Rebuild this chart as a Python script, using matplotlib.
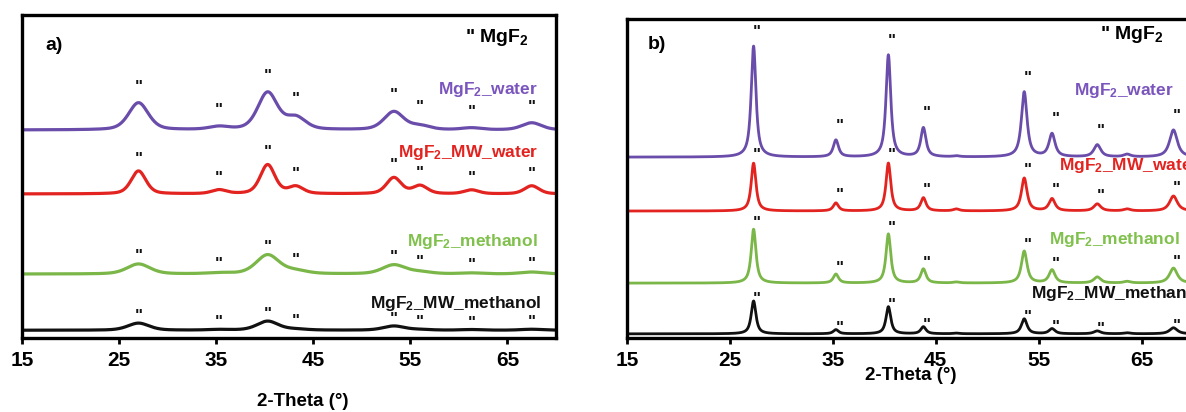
import numpy as np
import matplotlib
matplotlib.use("Agg")
import matplotlib.pyplot as plt

plt.rcParams['font.family'] = ['Liberation Sans', 'DejaVu Sans']
plt.rcParams['mathtext.default'] = 'regular'

# ---------------- data ----------------
series_labels = ['MgF$_2$_water', 'MgF$_2$_MW_water', 'MgF$_2$_methanol', 'MgF$_2$_MW_methanol']
line_colors = ['#6a4caa', '#e2231f', '#7ab648', '#111111']
text_colors = ['#7a55bd', '#e2231f', '#80c04c', '#111111']

x_ticks = [15, 25, 35, 45, 55, 65]

# panel a) broad reflections (2-theta, relative intensity units)
a_peak_pos = [27.0, 35.3, 40.3, 43.2, 53.3, 56.0, 61.3, 67.5]
a_baseline = [64.4, 44.6, 19.8, 2.4]
a_water = [8.4, 0.9, 11.5, 3.7, 5.6, 1.2, 0.6, 2.2]
a_mw_water = [7.1, 1.2, 9.0, 2.2, 5.0, 2.5, 1.2, 2.5]
a_methanol = [3.1, 0.3, 5.9, 0.9, 2.8, 0.6, 0.3, 0.6]
a_mw_methanol = [2.2, 0.2, 2.8, 0.3, 1.3, 0.2, 0.2, 0.3]
a_fwhm = [2.4, 1.8, 2.8, 2.6]
a_marked = [[0, 1, 2, 3, 4, 5, 6, 7]] * 4

# panel b) sharp reflections
b_peak_pos = [27.3, 35.3, 40.4, 43.8, 47.0, 53.6, 56.3, 60.7, 63.6, 68.1]
b_fwhm = [0.55, 0.6, 0.55, 0.6, 0.7, 0.65, 0.7, 0.8, 0.8, 0.9]
b_baseline = [56.7, 39.8, 17.2, 1.3]
b_water = [34.8, 5.3, 32.0, 9.1, 0.3, 20.4, 7.2, 3.8, 0.8, 8.5]
b_mw_water = [15.0, 2.5, 15.0, 4.1, 0.6, 10.3, 3.8, 2.2, 0.6, 4.7]
b_methanol = [16.9, 2.8, 15.4, 4.4, 0.3, 10.0, 4.1, 1.9, 0.5, 4.7]
b_mw_methanol = [10.3, 1.3, 8.5, 2.2, 0.2, 4.7, 1.6, 0.9, 0.3, 1.9]
b_marked = [[0, 1, 2, 3, 5, 6, 7, 9],
            [0, 1, 2, 3, 5, 6, 7, 9],
            [0, 1, 2, 3, 5, 6, 9],
            [0, 1, 2, 3, 5, 6, 7, 9]]

a_series = [a_water, a_mw_water, a_methanol, a_mw_methanol]
b_series = [b_water, b_mw_water, b_methanol, b_mw_methanol]

# marker distance above each peak (pixels, style)
a_mark_gap = [21, 17, 13, 12]
b_mark_gap = [19, 13, 11, 7]


def profile(x, pos, heights, fwhm, eta):
    y = np.zeros_like(x)
    fw = np.broadcast_to(np.asarray(fwhm, float), (len(pos),))
    for p, h, w in zip(pos, heights, fw):
        g = np.exp(-4 * np.log(2) * ((x - p) / w) ** 2)
        l = 1.0 / (1.0 + 4 * ((x - p) / w) ** 2)
        y += h * (eta * l + (1 - eta) * g)
    return y


W, H = 1186, 412
fig = plt.figure(figsize=(W / 100, H / 100), dpi=100)

ax_a = fig.add_axes([22 / W, 1 - 338 / H, 534 / W, 323 / H])
ax_b = fig.add_axes([627 / W, 1 - 338 / H, (1193 - 627) / W, 319 / H])

x = np.linspace(15, 70, 3000)

for ax in (ax_a, ax_b):
    ax.set_xlim(15, 70)
    ax.set_ylim(0, 100)
    ax.set_yticks([])
    ax.set_xticks(x_ticks)
    ax.set_xticklabels([str(t) for t in x_ticks], fontsize=15, fontweight='bold')
    ax.tick_params(axis='x', direction='out', length=4, width=2, pad=5)
    for sp in ax.spines.values():
        sp.set_linewidth(2.4)


def draw_panel(ax, pos, series, baselines, fwhm_of, eta, marked, gaps, lw, dx):
    for i, (heights, base) in enumerate(zip(series, baselines)):
        y = base + profile(x, pos, heights, fwhm_of(i), eta)
        ax.plot(x, y, color=line_colors[i], lw=lw, solid_joinstyle='round')
        off = (gaps[i] - 10) / 1.389
        for k in marked[i]:
            p = pos[k]
            sel = (x > p - 0.6) & (x < p + 0.6)
            yv = y[sel].max()
            ax.annotate('"', xy=(p, yv), xytext=(dx, off), textcoords='offset points',
                        ha='center', va='baseline', fontsize=12, fontweight='bold',
                        color='#111111', annotation_clip=False)


draw_panel(ax_a, a_peak_pos, a_series, a_baseline, lambda i: a_fwhm[i], 0.4,
           a_marked, a_mark_gap, 2.3, 0)
draw_panel(ax_b, b_peak_pos, b_series, b_baseline, lambda i: b_fwhm, 0.85,
           b_marked, b_mark_gap, 2.0, 2.5)

# panel a texts
ax_a.text(0.043, 0.905, 'a)', transform=ax_a.transAxes, fontsize=14, fontweight='bold',
          ha='left', va='center')
ax_a.text(0.95, 0.93, '" MgF$_2$', transform=ax_a.transAxes, fontsize=14, fontweight='bold',
          ha='right', va='center')
a_label_y = [0.768, 0.573, 0.300, 0.108]
a_label_x = [0.966, 0.966, 0.966, 0.973]
for i in range(4):
    ax_a.text(a_label_x[i], a_label_y[i], series_labels[i], transform=ax_a.transAxes,
              fontsize=12.5, fontweight='bold', color=text_colors[i], ha='right', va='center')

# panel b texts
ax_b.text(0.037, 0.92, 'b)', transform=ax_b.transAxes, fontsize=14, fontweight='bold',
          ha='left', va='center')
ax_b.text(0.948, 0.95, '" MgF$_2$', transform=ax_b.transAxes, fontsize=14, fontweight='bold',
          ha='right', va='center')
b_label_x = [0.789, 0.763, 0.746, 0.713]
b_label_y = [0.777, 0.542, 0.310, 0.138]
for i in range(4):
    ax_b.text(b_label_x[i], b_label_y[i], series_labels[i], transform=ax_b.transAxes,
              fontsize=12.5, fontweight='bold', color=text_colors[i], ha='left', va='center')

fig.text(303 / W, 1 - 401 / H, '2-Theta (°)', fontsize=13.5, fontweight='bold',
         ha='center', va='center')
fig.text(911 / W, 1 - 376 / H, '2-Theta (°)', fontsize=13.5, fontweight='bold',
         ha='center', va='center')

fig.savefig('out.png', dpi=100)
